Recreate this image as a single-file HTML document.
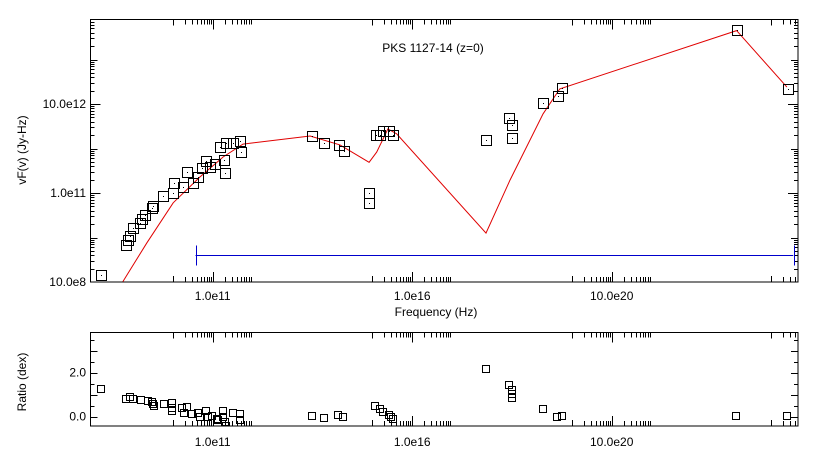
<!DOCTYPE html>
<html><head><meta charset="utf-8">
<style>
html,body{margin:0;padding:0;background:#fff;}
svg{display:block;font-family:"Liberation Sans","DejaVu Sans",sans-serif;}
</style></head>
<body>
<svg id="chart" width="818" height="452" viewBox="0 0 818 452" xmlns="http://www.w3.org/2000/svg"></svg>
<script>
// ---- data (log10 values) ----
const obsLogNu = [8.20,8.83,8.88,8.93,8.99,9.18,9.22,9.30,9.47,9.50,9.75,10.00,10.03,10.26,10.36,10.51,10.63,10.73,10.83,10.93,11.06,11.18,11.28,11.31,11.33,11.51,11.68,11.71,13.48,13.79,14.17,14.28,14.92,14.92,15.09,15.19,15.26,15.42,15.52,17.85,18.43,18.50,18.50,19.28,19.65,19.75,24.13,25.41];
const obsLogFlux = [9.16,9.83,9.94,10.03,10.21,10.33,10.42,10.51,10.66,10.71,10.93,11.00,11.22,11.13,11.47,11.22,11.36,11.56,11.72,11.58,11.65,12.03,11.74,11.45,12.12,12.12,12.17,11.92,12.27,12.12,12.08,11.95,11.00,10.78,12.31,12.30,12.40,12.40,12.30,12.20,12.69,12.53,12.24,13.02,13.18,13.37,14.66,13.34];
const modelLogNu = [8.75,9.35,10.01,10.68,11.26,11.76,13.44,14.19,14.92,15.11,15.39,15.61,17.85,18.45,19.28,19.70,24.13,25.39];
const modelLogFlux = [9.01,9.88,10.78,11.36,11.81,12.10,12.28,12.08,11.69,11.92,12.44,12.33,10.10,11.29,12.78,13.34,14.65,13.38];
const ratioLogNu = [8.20,8.82,8.92,9.01,9.21,9.38,9.47,9.51,9.54,9.77,9.99,9.99,9.99,10.23,10.36,10.28,10.49,10.62,10.67,10.83,10.88,10.97,11.10,11.14,11.27,11.27,11.30,11.33,11.50,11.69,11.69,13.48,13.78,14.15,14.27,15.07,15.20,15.27,15.41,15.48,15.51,17.84,18.42,18.49,18.49,18.49,19.27,19.64,19.75,24.11,25.39];
const ratioValues = [1.26,0.80,0.88,0.80,0.76,0.73,0.68,0.58,0.50,0.56,0.61,0.38,0.27,0.38,0.42,0.15,0.12,0.15,-0.03,0.27,-0.03,0.03,-0.09,-0.15,0.27,-0.03,-0.22,-0.42,0.15,0.12,-0.15,0.03,-0.07,0.06,-0.03,0.49,0.34,0.22,0.06,-0.03,-0.12,2.16,1.44,1.21,1.03,0.85,0.34,0.00,0.03,0.03,0.03];
const bandLogNu = [10.57, 25.55];
const bandLogFlux = 9.6;
const xMajorLabels = ["1.0e11","1.0e16","10.0e20"];
const xMajorLogs = [11,16,21];
const yLabels = ["10.0e8","1.0e11","10.0e12"];
const yLabelLogs = [9,11,13];
const rLabels = ["0.0","2.0"];
const rLabelVals = [0,2];

// ---- geometry ----
const L=90.5, R=798, T=19.5, B=282, RT=332.5, RB=426;
const xs = v => 212.7 + (v-11)*39.9;
const ys = v => 282 - (v-9)*44.5;
const rs = v => 416.7 - v*22;
const svg = document.getElementById('chart');
const NS = "http://www.w3.org/2000/svg";
function mk(tag, attrs, parent){const e=document.createElementNS(NS,tag);for(const k in attrs)e.setAttribute(k,attrs[k]);(parent||svg).appendChild(e);return e;}

// clip paths
const defs = mk('defs',{});
const c1 = mk('clipPath',{id:'c1'},defs); mk('rect',{x:L,y:T,width:R-L,height:B-T},c1);
const c2 = mk('clipPath',{id:'c2'},defs); mk('rect',{x:L,y:RT,width:R-L,height:RB-RT},c2);

// frames
const f1 = mk('rect',{x:L,y:T,width:R-L,height:B-T,fill:'none',stroke:'#000','stroke-width':1});


const f2 = mk('rect',{x:L,y:RT,width:R-L,height:RB-RT,fill:'none',stroke:'#000','stroke-width':1});



// x ticks for both panels
function xTicks(top,bot,name){
  const g = mk('g',{stroke:'#000','stroke-width':1});
  
  
  xMajorLogs.forEach(M=>{
    [M-1,M].forEach(d=>{
      for(let k=1;k<=9;k++){
        const v=d+Math.log10(k); const x=Math.round(xs(v))+0.5;
        if(x<L||x>R) continue;
        const len = (d===M&&k===1)?10:(k===1?6:5);
        mk('line',{x1:x,y1:top,x2:x,y2:top+len},g);
        mk('line',{x1:x,y1:bot,x2:x,y2:bot-len},g);
      }
    });
  });
  // extra decade near right edge
  for(let k=1;k<=9;k++){const v=25+Math.log10(k);const x=Math.round(xs(v))+0.5;if(x>R)continue;
    mk('line',{x1:x,y1:top,x2:x,y2:top+(k===1?6:5)},g);mk('line',{x1:x,y1:bot,x2:x,y2:bot-(k===1?6:5)},g);}
}
xTicks(T,B,'sed-x-ticks');
xTicks(RT,RB,'ratio-x-ticks');

// y ticks top
const gy = mk('g',{stroke:'#000','stroke-width':1});


for(let d=9;d<=14;d++){for(let k=1;k<=9;k++){const v=d+Math.log10(k);const y=Math.round(ys(v))+0.5;if(y<T||y>B)continue;
  const len=(k===1)?(d%2===1?10:7):4;
  mk('line',{x1:L,y1:y,x2:L+len,y2:y},gy);mk('line',{x1:R,y1:y,x2:R-len,y2:y},gy);}}
// y ticks ratio
const gr = mk('g',{stroke:'#000','stroke-width':1});


for(let v=-0.5;v<=4;v+=0.5){const y=Math.round(rs(v))+0.5;if(y<RT||y>RB)continue;
  const len=(Math.abs(v%1)<0.01)?7:4;
  mk('line',{x1:L,y1:y,x2:L+len,y2:y},gr);mk('line',{x1:R,y1:y,x2:R-len,y2:y},gr);}

// tick labels
xMajorLabels.forEach((t,i)=>{
  const a=mk('text',{x:xs(xMajorLogs[i]),y:300,'font-size':12,'text-anchor':'middle',fill:'#000'});a.textContent=t;
  
  
  const b=mk('text',{x:xs(xMajorLogs[i]),y:446,'font-size':12,'text-anchor':'middle',fill:'#000'});b.textContent=t;
  
  
});
yLabels.forEach((t,i)=>{
  const a=mk('text',{x:86,y:ys(yLabelLogs[i])+4,'font-size':12,'text-anchor':'end',fill:'#000'});a.textContent=t;
  
  
});
rLabels.forEach((t,i)=>{
  const a=mk('text',{x:86,y:rs(rLabelVals[i])+4,'font-size':12,'text-anchor':'end',fill:'#000'});a.textContent=t;
  
  
});

// axis titles
let t;
t=mk('text',{x:436,y:316,'font-size':12,'text-anchor':'middle'});t.textContent='Frequency (Hz)';


t=mk('text',{x:0,y:0,'font-size':12,'text-anchor':'middle',transform:'translate(26,150) rotate(-90)'});t.textContent='vF(v) (Jy-Hz)';


t=mk('text',{x:0,y:0,'font-size':12,'text-anchor':'middle',transform:'translate(26,382) rotate(-90)'});t.textContent='Ratio (dex)';


t=mk('text',{x:433,y:52,'font-size':12,'text-anchor':'middle'});t.textContent='PKS 1127-14 (z=0)';



// band (blue)
const gb = mk('g',{stroke:'#0000cc','stroke-width':1,'clip-path':'url(#c1)'});


const by=Math.round(ys(bandLogFlux))+0.5;
mk('line',{x1:xs(bandLogNu[0]),y1:by,x2:xs(bandLogNu[1]),y2:by},gb);
mk('line',{x1:Math.round(xs(bandLogNu[0]))+0.5,y1:by-10,x2:Math.round(xs(bandLogNu[0]))+0.5,y2:by+10},gb);
mk('line',{x1:794.5,y1:by-10,x2:794.5,y2:by+10},gb);

// model line
const pts = modelLogNu.map((v,i)=>xs(v).toFixed(1)+','+ys(modelLogFlux[i]).toFixed(1)).join(' ');
const ml = mk('polyline',{points:pts,fill:'none',stroke:'#e00000','stroke-width':1,'clip-path':'url(#c1)'});



// observed points
const go = mk('g',{fill:'none',stroke:'#000','stroke-width':1,'clip-path':'url(#c1)'});


obsLogNu.forEach((v,i)=>{
  const x=Math.round(xs(v)),y=Math.round(ys(obsLogFlux[i]));
  const r=mk('rect',{x:x-4.5,y:y-4.5,width:10,height:10},go);
  
  
  mk('rect',{x:x,y:y,width:1,height:1,fill:'#000',stroke:'none'},go);
});

// ratio points
const gq = mk('g',{fill:'none',stroke:'#000','stroke-width':1,'clip-path':'url(#c2)'});


ratioLogNu.forEach((v,i)=>{
  const x=Math.round(xs(v)),y=Math.round(rs(ratioValues[i]));
  const r=mk('rect',{x:x-3.5,y:y-3.5,width:7,height:7},gq);
  
  
});
</script>
</body></html>
